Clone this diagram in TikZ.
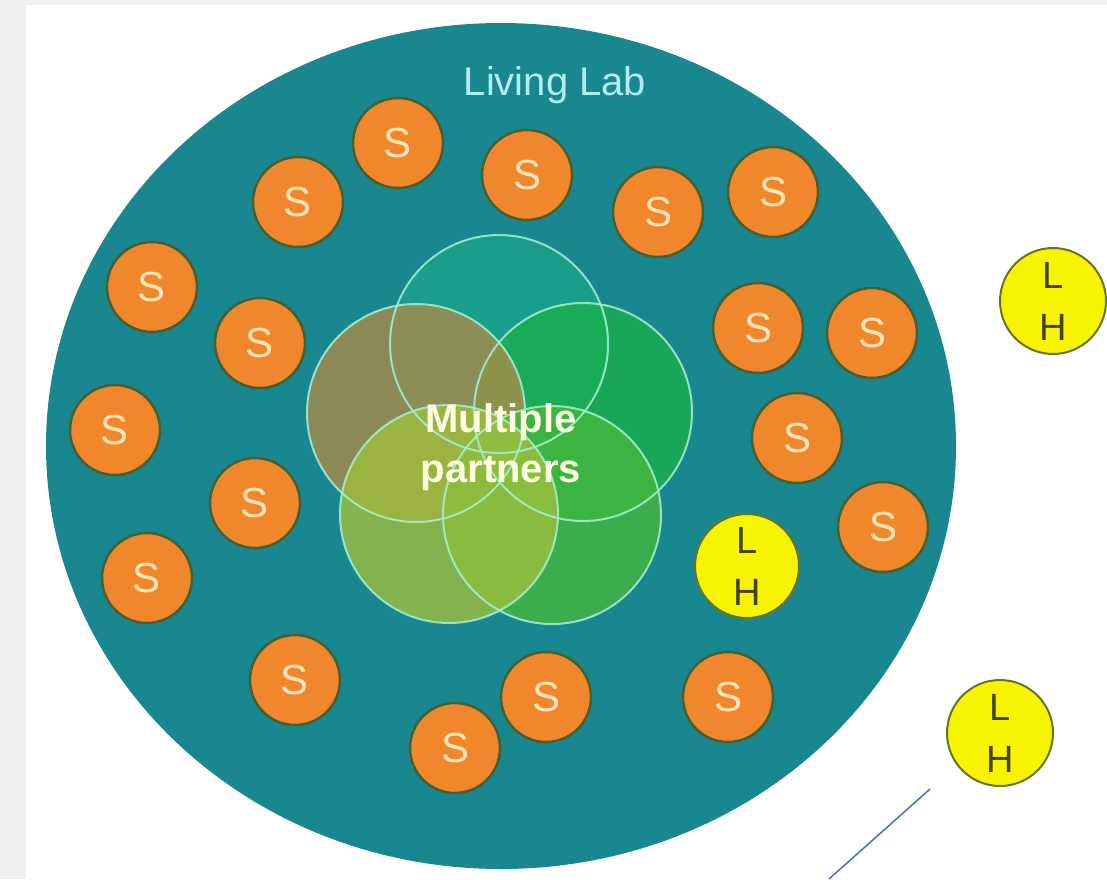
\documentclass[tikz,border=0pt]{standalone}
\usepackage{fontspec}
\setmainfont{Liberation Sans}
\usetikzlibrary{shapes.geometric}
\definecolor{PageGray}{RGB}{239,239,239}
\definecolor{LabTeal}{RGB}{24,135,144}
\definecolor{LabText}{RGB}{178,236,240}
\definecolor{StakeOrange}{RGB}{240,135,45}
\definecolor{StakeEdge}{RGB}{72,96,48}
\definecolor{StakeText}{RGB}{255,228,182}
\definecolor{HubYellow}{RGB}{246,244,0}
\definecolor{HubEdge}{RGB}{105,115,40}
\definecolor{HubText}{RGB}{70,66,14}
\definecolor{RingLine}{RGB}{165,240,212}
\definecolor{PartnerTop}{RGB}{27,164,136}
\definecolor{PartnerLeft}{RGB}{172,139,72}
\definecolor{PartnerRight}{RGB}{27,176,74}
\definecolor{PartnerLowLeft}{RGB}{160,192,60}
\definecolor{PartnerLowRight}{RGB}{69,184,59}
\definecolor{LineBlue}{RGB}{68,114,196}
\tikzstyle{LabArea}=[ellipse, fill=LabTeal, minimum width=910pt, minimum height=846pt, inner sep=0pt]
\tikzstyle{LabTitle}=[anchor=base, text=LabText, font=\fontsize{40}{44}\selectfont]
\tikzstyle{PartnerRing}=[circle, fill opacity=0.78, minimum size=218pt, inner sep=0pt]
\tikzstyle{RingEdge}=[draw=RingLine, line width=2pt, draw opacity=0.85]
\tikzstyle{PartnersText}=[align=center, text=white!88!yellow, font=\bfseries\fontsize{40}{50}\selectfont]
\tikzstyle{Stakeholder}=[circle, draw=StakeEdge, fill=StakeOrange, line width=2.5pt, minimum size=90pt, inner sep=0pt, text=StakeText, font=\fontsize{42}{44}\selectfont]
\tikzstyle{Hub}=[circle, draw=HubEdge, fill=HubYellow, line width=2pt, minimum size=106pt, inner sep=0pt, align=center, text=HubText, font=\fontsize{38}{52}\selectfont]
\tikzstyle{BlueLine}=[draw=LineBlue, line width=1.5pt]

\begin{document}
\begin{tikzpicture}[x=1pt,y=-1pt]
			\useasboundingbox (0,0) rectangle (1107,879);
			%Fondo
			\fill[PageGray] (0,0) rectangle (1107,879);
			\fill[white] (26,5) rectangle (1107,879);

			%Living Lab
			\node[LabArea]		(lab)				at (501,446)	{};
			\node[LabTitle]		(lab_title)			at (555,95)		{Living Lab};

			%Socios
			\node[PartnerRing, fill=PartnerTop]		(partner_top)		at (499,344)	{};
			\node[PartnerRing, fill=PartnerRight]	(partner_right)		at (583,412)	{};
			\node[PartnerRing, fill=PartnerLeft]	(partner_left)		at (416,413)	{};
			\node[PartnerRing, fill=PartnerLowRight]	(partner_lowright)	at (552,515)	{};
			\node[PartnerRing, fill=PartnerLowLeft]	(partner_lowleft)	at (449,514)	{};
			\draw[RingEdge] (partner_top) circle (109);
			\draw[RingEdge] (partner_right) circle (109);
			\draw[RingEdge] (partner_left) circle (109);
			\draw[RingEdge] (partner_lowright) circle (109);
			\draw[RingEdge] (partner_lowleft) circle (109);
			\node[PartnersText]	(partners_text)		at (501,447)	{Multiple\\partners};

			%Stakeholders
			\node[Stakeholder]	(stake_01)	at (398,143)	{S};
			\node[Stakeholder]	(stake_02)	at (298,202)	{S};
			\node[Stakeholder]	(stake_03)	at (527,175)	{S};
			\node[Stakeholder]	(stake_04)	at (658,212)	{S};
			\node[Stakeholder]	(stake_05)	at (773,192)	{S};
			\node[Stakeholder]	(stake_06)	at (152,287)	{S};
			\node[Stakeholder]	(stake_07)	at (260,343)	{S};
			\node[Stakeholder]	(stake_08)	at (758,328)	{S};
			\node[Stakeholder]	(stake_09)	at (872,333)	{S};
			\node[Stakeholder]	(stake_10)	at (115,430)	{S};
			\node[Stakeholder]	(stake_11)	at (797,438)	{S};
			\node[Stakeholder]	(stake_12)	at (255,503)	{S};
			\node[Stakeholder]	(stake_13)	at (883,527)	{S};
			\node[Stakeholder]	(stake_14)	at (147,578)	{S};
			\node[Stakeholder]	(stake_15)	at (295,680)	{S};
			\node[Stakeholder]	(stake_16)	at (546,697)	{S};
			\node[Stakeholder]	(stake_17)	at (455,748)	{S};
			\node[Stakeholder]	(stake_18)	at (728,697)	{S};

			%Hubs
			\node[Hub, minimum size=104pt]	(hub_inside)	at (747,566)	{L\\H};
			\node[Hub]	(hub_top)		at (1053,301)	{L\\H};
			\node[Hub]	(hub_bottom)	at (1000,733)	{L\\H};

			%Linea
			\coordinate (line_start)	at (930,789);
			\coordinate (line_end)		at (829,879);
			\draw[BlueLine] (line_start) -- (line_end);
		\end{tikzpicture}
\end{document}
